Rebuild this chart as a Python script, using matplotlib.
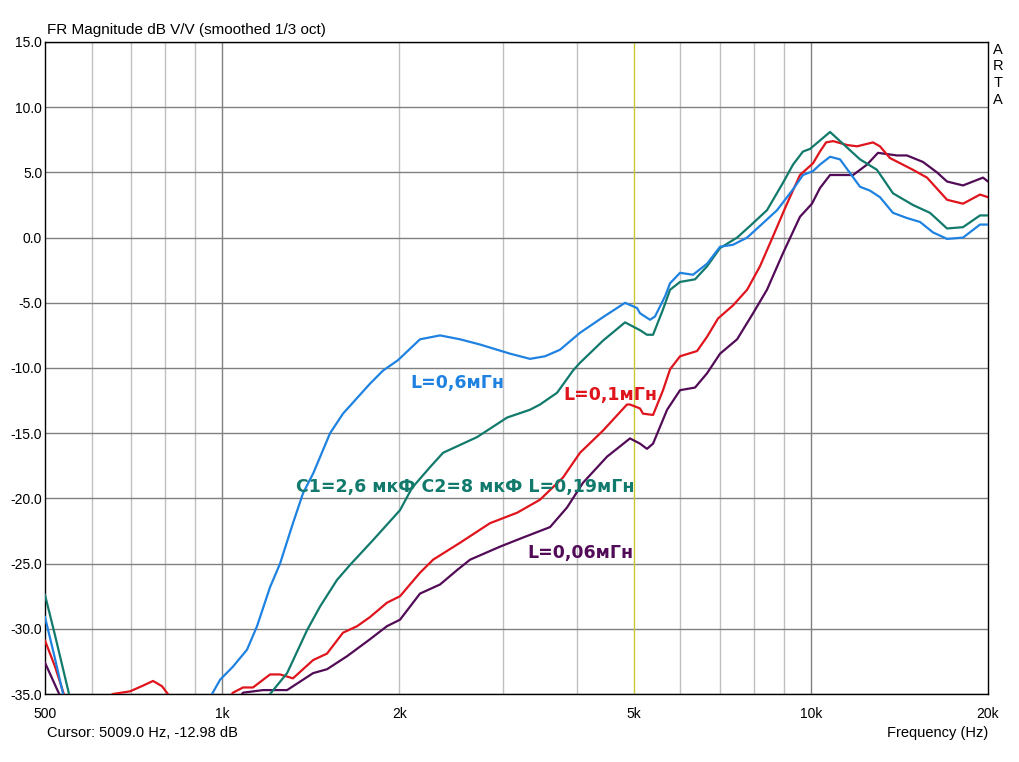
import matplotlib
matplotlib.use("Agg")
import matplotlib.pyplot as plt
from matplotlib.ticker import FixedLocator, NullLocator, FixedFormatter

# ---------------- data ----------------
blue_f = [500, 520, 543, 620, 935, 961, 992, 1043, 1102, 1146, 1206, 1254, 1319, 1372, 1427,
          1525, 1604, 1783, 1876, 1989, 2168, 2345, 2536, 2742, 3083, 3334, 3536, 3749, 4054,
          4436, 4835, 5067, 5126, 5331, 5436, 5655, 5766, 5996, 6308, 6665, 7012, 7376, 7794,
          8197, 8762, 9328, 9698, 10087, 10365, 10781, 11211, 12122, 12606, 13106, 13790,
          14565, 15330, 16128, 17040, 18137, 19385, 20000]
blue_db = [-29.1, -32.3, -36, -37, -36.5, -35, -33.9, -32.9, -31.6, -29.8, -26.8, -25.0, -21.9,
           -19.6, -18.1, -15.0, -13.5, -11.2, -10.2, -9.4, -7.8, -7.5, -7.8, -8.2, -8.9, -9.3,
           -9.1, -8.6, -7.3, -6.1, -5.0, -5.4, -5.8, -6.3, -6.05, -4.5, -3.5, -2.7, -2.85, -2.0,
           -0.7, -0.55, 0.0, 0.9, 2.1, 3.7, 4.8, 5.1, 5.6, 6.2, 6.0, 3.9, 3.6, 3.1, 1.9, 1.5,
           1.2, 0.4, -0.1, 0.0, 1.0, 1.0]

teal_f = [500, 520, 556, 700, 1100, 1206, 1289, 1394, 1466, 1567, 1649, 1804, 2005, 2101,
          2255, 2373, 2710, 3048, 3334, 3467, 3706, 3944, 4054, 4436, 4835, 5126, 5268, 5395,
          5610, 5766, 5996, 6358, 6665, 7012, 7495, 7886, 8424, 8968, 9328, 9698, 9969, 10781,
          12122, 12953, 13790, 14912, 15938, 17040, 18137, 19385, 20000]
teal_db = [-27.4, -30.5, -36, -37, -37, -35, -33.4, -30.1, -28.3, -26.25, -25.1, -23.2, -20.9,
           -19.2, -17.6, -16.5, -15.3, -13.8, -13.2, -12.8, -11.9, -10.2, -9.6, -7.9, -6.5,
           -7.1, -7.45, -7.45, -5.5, -4.0, -3.4, -3.2, -2.2, -0.8, 0.0, 0.9, 2.1, 4.2, 5.6,
           6.6, 6.8, 8.1, 6.0, 5.2, 3.4, 2.5, 1.9, 0.7, 0.8, 1.7, 1.7]

red_f = [500, 520, 547, 600, 652, 697, 730, 763, 790, 815, 840, 1000, 1030, 1043, 1085, 1128,
         1206, 1254, 1319, 1427, 1507, 1604, 1695, 1783, 1905, 2005, 2168, 2282, 2536, 2851,
         3170, 3467, 3793, 4054, 4436, 4872, 4930, 5126, 5186, 5395, 5610, 5766, 5996, 6408,
         6665, 6957, 7376, 7794, 8197, 8626, 9110, 9586, 10087, 10365, 10615, 10909, 11526,
         11982, 12753, 13106, 13630, 14912, 15754, 17040, 18137, 19385, 20000]
red_db = [-30.9, -32.9, -36, -36, -35, -34.8, -34.4, -34.0, -34.4, -35.2, -36.5, -37, -35.2,
          -34.9, -34.5, -34.5, -33.5, -33.5, -33.8, -32.4, -31.9, -30.3, -29.8, -29.1, -28.0,
          -27.5, -25.7, -24.7, -23.4, -21.9, -21.1, -20.1, -18.4, -16.5, -14.8, -12.8, -12.8,
          -13.1, -13.5, -13.6, -11.7, -10.1, -9.1, -8.7, -7.6, -6.2, -5.2, -4.0, -2.2, 0.1,
          2.6, 4.8, 5.7, 6.6, 7.3, 7.4, 7.1, 7.0, 7.3, 7.0, 6.1, 5.2, 4.6, 2.9, 2.6, 3.3, 3.1]

purple_f = [500, 520, 541, 700, 1000, 1060, 1085, 1173, 1289, 1427, 1507, 1630, 1783, 1905,
            2005, 2168, 2345, 2506, 2637, 2965, 3245, 3606, 3853, 4102, 4506, 4930, 5126, 5268,
            5395, 5700, 5996, 6358, 6665, 7012, 7495, 7979, 8424, 8968, 9586, 10045, 10365,
            10781, 11798, 12461, 13004, 14008, 14565, 15510, 16383, 17040, 18137, 19614, 20000]
purple_db = [-32.6, -34.3, -36, -37, -37, -35.5, -34.9, -34.7, -34.7, -33.4, -33.1, -32.1,
             -30.8, -29.8, -29.3, -27.3, -26.6, -25.5, -24.7, -23.7, -23.0, -22.2, -20.7, -18.8,
             -16.8, -15.4, -15.8, -16.2, -15.8, -13.2, -11.7, -11.5, -10.4, -8.9, -7.8, -5.8,
             -4.0, -1.2, 1.6, 2.6, 3.8, 4.8, 4.8, 5.6, 6.5, 6.3, 6.3, 5.8, 5.0, 4.3, 4.0, 4.6,
             4.3]

xtick_vals = [500, 1000, 2000, 5000, 10000, 20000]
xtick_labels = ["500", "1k", "2k", "5k", "10k", "20k"]
ytick_vals = [15, 10, 5, 0, -5, -10, -15, -20, -25, -30, -35]
minor_grid = [600, 700, 800, 900, 2000, 3000, 4000, 6000, 7000, 8000, 9000]
major_grid = [1000, 10000]
cursor_f = 5009.0

labels = [
    ("L=0,6мГн", 2085, -11.15, "blue"),
    ("L=0,1мГн", 3793, -12.07, "red"),
    ("C1=2,6 мкФ C2=8 мкФ L=0,19мГн", 1335, -19.13, "teal"),
    ("L=0,06мГн", 3296, -24.19, "purple"),
]

colors = {"blue": "#1f82e0", "teal": "#117a6c", "red": "#e0141c", "purple": "#520b56"}

# ---------------- figure ----------------
plt.rcParams['font.family'] = ['Liberation Sans', 'DejaVu Sans']
fig = plt.figure(figsize=(10.19, 7.62), dpi=100)
fig.patch.set_facecolor("white")
ax = fig.add_axes([45 / 1019, 1 - 694 / 762, (988 - 45) / 1019, (694 - 42) / 762])
ax.set_xscale("log")
ax.set_xlim(500, 20000)
ax.set_ylim(-35, 15)

for f in minor_grid:
    ax.axvline(f, color="#c0c0c0", lw=1.0, zorder=1)
for f in major_grid:
    ax.axvline(f, color="#808080", lw=1.0, zorder=1)
for v in ytick_vals:
    ax.axhline(v, color="#808080", lw=1.0, zorder=1)
ax.axvline(cursor_f, color="#c8c832", lw=1.0, zorder=1)

lw = 1.6
ax.plot(purple_f, purple_db, color=colors["purple"], lw=lw, zorder=3)
ax.plot(red_f, red_db, color=colors["red"], lw=lw, zorder=4)
ax.plot(teal_f, teal_db, color=colors["teal"], lw=lw, zorder=5)
ax.plot(blue_f, blue_db, color=colors["blue"], lw=lw, zorder=6)

for txt, fx, fy, c in labels:
    ax.text(fx, fy, txt, color=colors[c], fontsize=12.5, fontweight="bold",
            family=["DejaVu Sans"], ha="left", va="center", zorder=7)

ax.xaxis.set_major_locator(FixedLocator(xtick_vals))
ax.xaxis.set_major_formatter(FixedFormatter(xtick_labels))
ax.xaxis.set_minor_locator(NullLocator())
ax.set_yticks(ytick_vals)
ax.set_yticklabels([f"{v:.1f}" for v in ytick_vals])
ax.tick_params(axis="both", length=0, labelsize=10, colors="black")
ax.tick_params(axis="x", pad=9)
ax.tick_params(axis="y", pad=2)

for s in ax.spines.values():
    s.set_color("black")
    s.set_linewidth(1.0)

fig.text(47 / 1019, 1 - 30 / 762, "FR Magnitude dB V/V (smoothed 1/3 oct)", fontsize=11,
         ha="left", va="center")
fig.text(47 / 1019, 1 - 733 / 762, "Cursor: 5009.0 Hz, -12.98 dB", fontsize=10.5,
         ha="left", va="center")
fig.text(988 / 1019, 1 - 733 / 762, "Frequency (Hz)", fontsize=10.5, ha="right", va="center")
for i, ch in enumerate("ARTA"):
    fig.text(998 / 1019, 1 - (50 + i * 16.5) / 762, ch, fontsize=10.5, ha="center", va="center")

fig.savefig("out.png", dpi=100, facecolor="white")
